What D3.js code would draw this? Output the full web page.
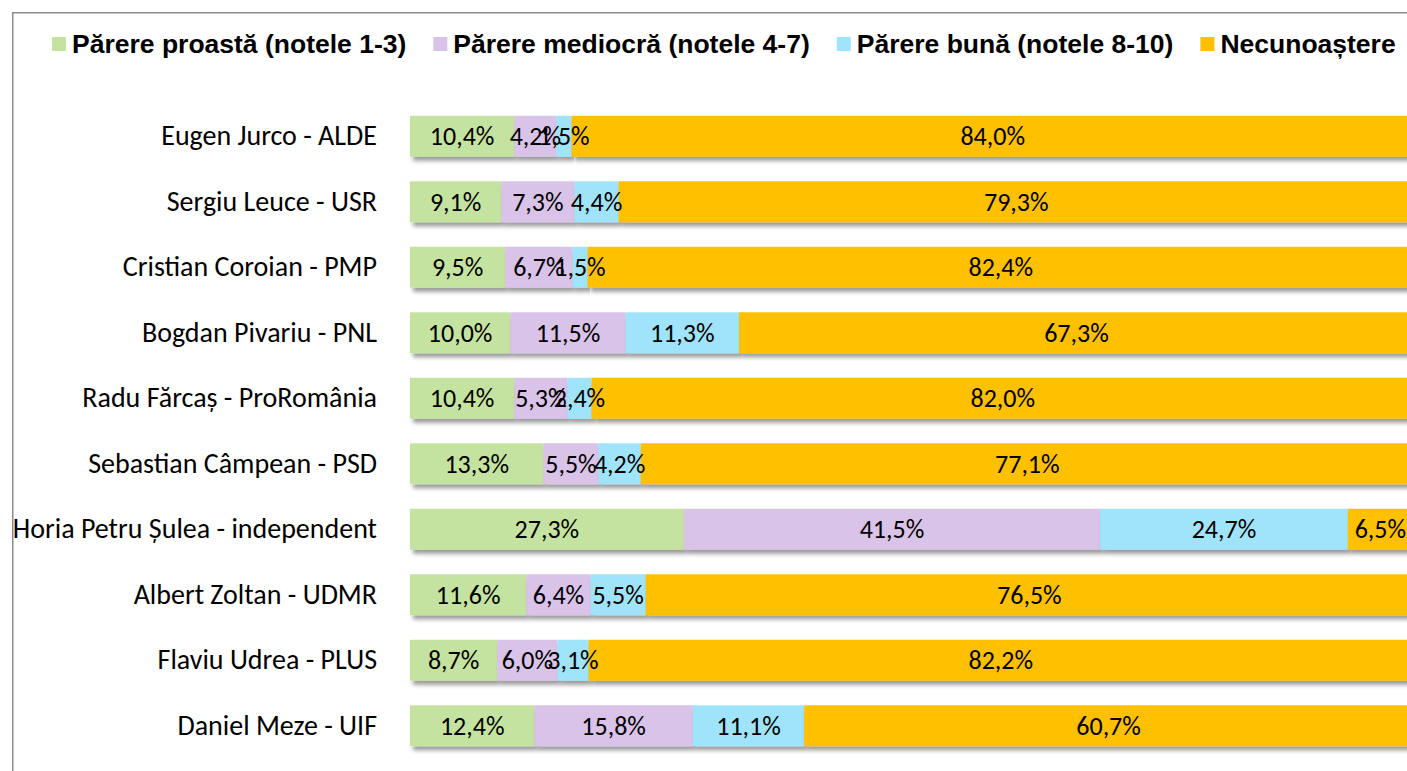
<!DOCTYPE html>
<html>
<head>
<meta charset="utf-8">
<script src="https://cdn.jsdelivr.net/npm/d3@7"></script>
<style>
	html, body { margin: 0; padding: 0; background: #fff; overflow: hidden; }
	svg { display: block; }
	.legend text { font-family: 'Liberation Sans', Arial, sans-serif; font-weight: bold; font-size: 26.5px; fill: #000; }
	.cat text { font-family: Carlito, Calibri, 'Open Sans', sans-serif; font-size: 28px; fill: #000; }
	.lbl { font-family: Carlito, Calibri, 'Open Sans', sans-serif; font-size: 26px; fill: #000; }
</style>
</head>
<body>
<div id="chart"></div>
<script>
const categories = [
	'Eugen Jurco - ALDE',
	'Sergiu Leuce - USR',
	'Cristian Coroian - PMP',
	'Bogdan Pivariu - PNL',
	'Radu Fărcaș - ProRomânia',
	'Sebastian Câmpean - PSD',
	'Horia Petru Șulea - independent',
	'Albert Zoltan - UDMR',
	'Flaviu Udrea - PLUS',
	'Daniel Meze - UIF'
];
const seriesNames = [
	'Părere proastă (notele 1-3)',
	'Părere mediocră (notele 4-7)',
	'Părere bună (notele 8-10)',
	'Necunoaștere'
];
const proasta = [10.4, 9.1, 9.5, 10.0, 10.4, 13.3, 27.3, 11.6, 8.7, 12.4];
const mediocra = [4.2, 7.3, 6.7, 11.5, 5.3, 5.5, 41.5, 6.4, 6.0, 15.8];
const buna = [1.5, 4.4, 1.5, 11.3, 2.4, 4.2, 24.7, 5.5, 3.1, 11.1];
const necunoastere = [84.0, 79.3, 82.4, 67.3, 82.0, 77.1, 6.5, 76.5, 82.2, 60.7];
const colors = ['#c5e3a0', '#d9c3e9', '#a0e4fc', '#ffc000'];

const W = 1407;
const H = 771;

const series = [proasta, mediocra, buna, necunoastere];
const rows = categories.map((c, i) => {
	const row = { name: c };
	seriesNames.forEach((s, j) => (row[s] = series[j][i]));
	return row;
});
const stacked = d3.stack().keys(seriesNames)(rows);

const x = d3.scaleLinear().domain([0, 100]).range([410, 1413]);
const y = d3
	.scaleBand()
	.domain(categories)
	.range([103.5, 758.5])
	.paddingInner(0.375)
	.paddingOuter(0.1875);
const color = d3.scaleOrdinal().domain(seriesNames).range(colors);
const fmt = v => d3.format('.1f')(v).replace('.', ',') + '%';

const $svg = d3
	.select('#chart')
	.append('svg')
	.attr('width', W)
	.attr('height', H);

const $defs = $svg.append('defs');
$defs
	.append('filter')
	.attr('id', 'shadow')
	.attr('x', '-5%')
	.attr('y', '-30%')
	.attr('width', '120%')
	.attr('height', '180%')
	.append('feDropShadow')
	.attr('dx', 3)
	.attr('dy', 4)
	.attr('stdDeviation', 2)
	.attr('flood-color', '#000')
	.attr('flood-opacity', 0.4);

// chart border
$svg
	.append('rect')
	.attr('x', 12.75)
	.attr('y', 12.75)
	.attr('width', W + 20)
	.attr('height', H + 20)
	.attr('fill', 'none')
	.attr('stroke', '#8c8c8c')
	.attr('stroke-width', 1.5);

// legend
const $legend = $svg.append('g').attr('class', 'legend');
let lx = 52;
seriesNames.forEach(s => {
	const $item = $legend.append('g').attr('transform', `translate(${lx},0)`);
	$item
		.append('rect')
		.attr('y', 37)
		.attr('width', 14)
		.attr('height', 14)
		.attr('fill', color(s));
	const $t = $item.append('text').attr('x', 20).attr('y', 53).text(s);
	lx += 20 + $t.node().getComputedTextLength() + 27;
});

// category labels
const $cat = $svg.append('g').attr('class', 'cat');
$cat
	.selectAll('text')
	.data(categories)
	.join('text')
	.attr('x', 377)
	.attr('y', d => y(d) + y.bandwidth() / 2)
	.attr('dy', '0.33em')
	.attr('text-anchor', 'end')
	.text(d => d);

// bars
const $layers = $svg
	.append('g')
	.selectAll('g.layer')
	.data(stacked)
	.join('g')
	.attr('class', 'layer')
	.attr('fill', d => color(d.key));

$layers
	.selectAll('rect')
	.data(d => d)
	.join('rect')
	.attr('x', d => x(d[0]))
	.attr('y', d => y(d.data.name))
	.attr('width', d => x(d[1]) - x(d[0]))
	.attr('height', y.bandwidth())
	.attr('filter', 'url(#shadow)');

// value labels
const labelData = [];
stacked.forEach(layer => {
	layer.forEach(d => {
		labelData.push({ name: d.data.name, v: d.data[layer.key], x0: d[0], x1: d[1] });
	});
});
$svg
	.append('g')
	.selectAll('text')
	.data(labelData)
	.join('text')
	.attr('class', 'lbl')
	.attr('x', d => (x(d.x0) + x(d.x1)) / 2)
	.attr('y', d => y(d.name) + y.bandwidth() / 2)
	.attr('dy', '0.35em')
	.attr('text-anchor', 'middle')
	.text(d => fmt(d.v));
</script>
</body>
</html>
